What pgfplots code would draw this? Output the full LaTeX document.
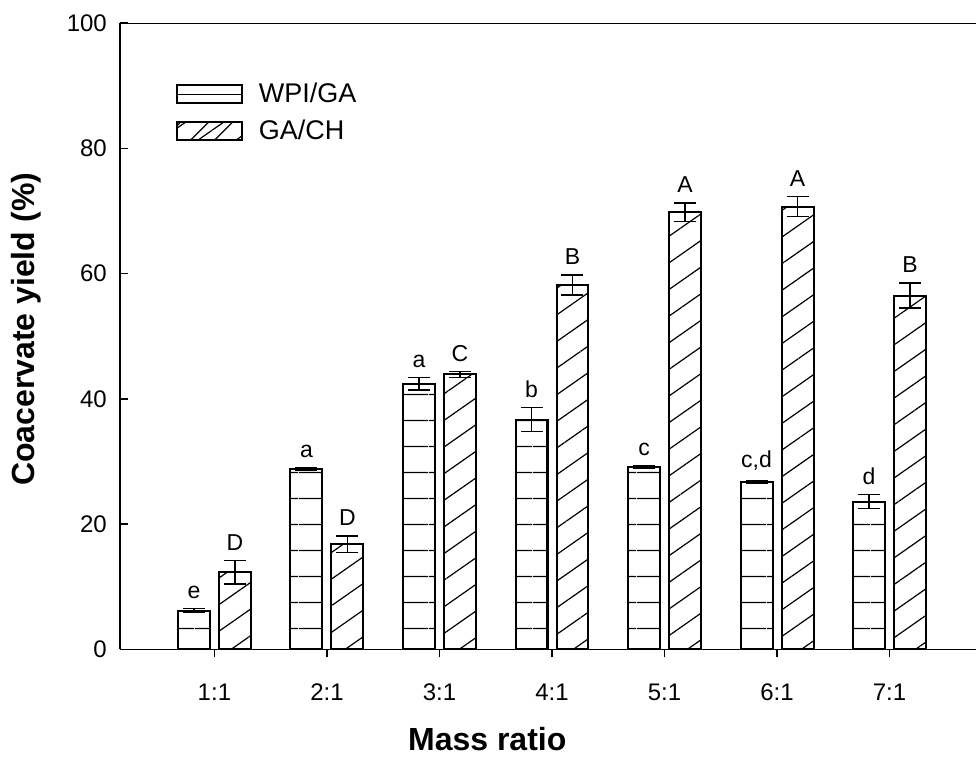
\documentclass[border={2.5pt 0pt 0pt 4pt}]{standalone}
\usepackage{fontspec}
\setmainfont{Liberation Sans}
\usepackage{pgfplots}
\pgfplotsset{compat=1.18}
\usepackage{pgfplotstable}
\usetikzlibrary{patterns.meta}

% x: mass ratio index, w/we/wl: WPI/GA mean, error, letter; g/ge/gl: GA/CH
\pgfplotstableread{
x w    we  wl  g    ge  gl
1 6.2  0.3 e   12.3 1.9 D
2 28.8 0.2 a   16.8 1.3 D
3 42.4 1.0 a   43.9 0.5 C
4 36.7 1.9 b   58.2 1.6 B
5 29.1 0.2 c   69.8 1.5 A
6 26.7 0.2 c,d 70.7 1.6 A
7 23.6 1.1 d   56.5 2.0 B
}\yielddata

\begin{document}
\begin{tikzpicture}
\begin{axis}[
    width=428pt, height=313pt, scale only axis,
    ybar, bar width=0.284,
    xmin=0.16, xmax=7.77, ymin=0, ymax=100,
    axis x line*=bottom, axis y line*=left,
    axis line style={line width=0.8pt},
    xtick={1,2,3,4,5,6,7},
    xticklabels={1:1,2:1,3:1,4:1,5:1,6:1,7:1},
    ytick={0,20,40,60,80,100},
    xtick align=outside, ytick align=inside,
    major tick length=4pt,
    tick style={line width=0.8pt, black},
    /pgf/number format/assume math mode=true,
    ticklabel style={font=\fontsize{12}{14}\selectfont},
    yticklabel style={xshift=-3pt},
    xticklabel style={anchor=north, text height=9pt, text depth=0pt, yshift=-9pt},
    xlabel={\textbf{Mass ratio}},
    ylabel={\textbf{Coacervate yield (\%)}},
    every axis x label/.style={at={(axis description cs:0.429,-0.144)}, anchor=center, font=\fontsize{16}{19}\selectfont},
    every axis y label/.style={at={(axis description cs:-0.109,0.511)}, anchor=center, rotate=90, font=\fontsize{16}{19}\selectfont},
    legend style={at={(axis description cs:0.058,0.918)}, anchor=north west, draw=none, fill=none,
        font=\fontsize{13.5}{16}\selectfont, row sep=3pt, column sep=6pt, legend cell align=left},
    error bars/error bar style={line width=0.8pt, black},
    error bars/error mark options={rotate=90, mark size=5.5pt, line width=0.8pt, black},
    nodes near coords style={anchor=south, yshift=1.5pt, font=\fontsize{11.5}{13}\selectfont},
]
\draw[line width=0.8pt] (rel axis cs:0,1) -- (rel axis cs:1,1);

\addplot[bar shift=-0.182, draw=black, line width=1pt,
    pattern={Lines[angle=0, distance=13pt, line width=0.6pt]},
    error bars/.cd, y dir=both, y explicit,
    /pgfplots/legend image code/.code={
        \draw[line width=0.9pt] (0pt,-4.5pt) rectangle (32.5pt,4.5pt);
        \draw[line width=0.6pt] (0pt,0pt) -- (32.5pt,0pt);}]
    table[x=x, y=w, y error=we] {\yielddata};
\addlegendentry{WPI/GA}

\addplot[bar shift=0.182, draw=black, line width=1pt,
    pattern={Lines[angle=35, distance=10.9pt, line width=0.6pt]},
    error bars/.cd, y dir=both, y explicit,
    /pgfplots/legend image code/.code={
        \draw[line width=0.9pt] (0pt,-4.5pt) rectangle (32.5pt,4.5pt);
        \draw[line width=0.6pt] (0pt,2.5pt) -- (2pt,4.5pt);
        \draw[line width=0.6pt] (7pt,-4.5pt) -- (16pt,4.5pt);
        \draw[line width=0.6pt] (19pt,-4.5pt) -- (28pt,4.5pt);}]
    table[x=x, y=g, y error=ge] {\yielddata};
\addlegendentry{GA/CH}

% letters above the error bars
\addplot[bar shift=-0.182, draw=none, fill=none, forget plot, nodes near coords, point meta=explicit symbolic]
    table[x=x, y expr=\thisrow{w}+\thisrow{we}, meta=wl] {\yielddata};
\addplot[bar shift=0.182, draw=none, fill=none, forget plot, nodes near coords, point meta=explicit symbolic]
    table[x=x, y expr=\thisrow{g}+\thisrow{ge}, meta=gl] {\yielddata};
\end{axis}
\end{tikzpicture}
\end{document}
